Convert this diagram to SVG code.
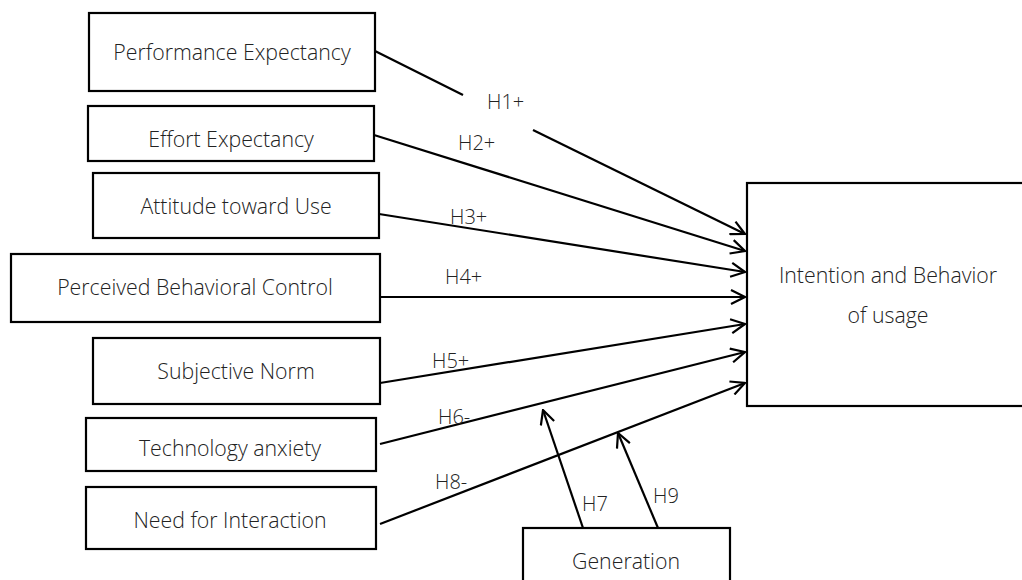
<svg xmlns="http://www.w3.org/2000/svg" width="1022" height="580" viewBox="0 0 1022 580">
<style>
.box{fill:#fff;stroke:#000;stroke-width:2.2}
.t{font-family:"Open Sans","Noto Sans",sans-serif;font-size:21.3px;font-weight:300;fill:#222;text-anchor:middle}
.l{font-family:"Open Sans","Noto Sans",sans-serif;font-size:20px;font-weight:300;fill:#222}
.c{fill:none;stroke:#000;stroke-width:2.2}
</style>
<defs>
<marker id="ah" viewBox="0 0 16 16" refX="15" refY="8" markerWidth="16" markerHeight="16" markerUnits="userSpaceOnUse" orient="auto">
<path d="M1,1 L15,8 L1,15" fill="none" stroke="#000" stroke-width="2.2"/>
</marker>
</defs>
<rect width="1022" height="580" fill="#fff"/>
<g id="connectors">
<line class="c" x1="375" y1="51" x2="463" y2="95"/>
<line class="c" x1="533" y1="130" x2="745" y2="234" marker-end="url(#ah)"/>
<line class="c" x1="374" y1="135" x2="745" y2="251" marker-end="url(#ah)"/>
<line class="c" x1="379" y1="214" x2="745" y2="272" marker-end="url(#ah)"/>
<line class="c" x1="380" y1="297" x2="745" y2="297" marker-end="url(#ah)"/>
<line class="c" x1="380" y1="383" x2="745" y2="324" marker-end="url(#ah)"/>
<line class="c" x1="380" y1="444" x2="745" y2="352" marker-end="url(#ah)"/>
<line class="c" x1="380" y1="524" x2="745" y2="383" marker-end="url(#ah)"/>
<line class="c" x1="583" y1="528" x2="543" y2="410" marker-end="url(#ah)"/>
<line class="c" x1="658" y1="528" x2="618" y2="433" marker-end="url(#ah)"/>
<text class="l" x="487" y="109">H1+</text>
<text class="l" x="458" y="150">H2+</text>
<text class="l" x="450" y="224">H3+</text>
<text class="l" x="445" y="284">H4+</text>
<text class="l" x="432" y="368">H5+</text>
<text class="l" x="438" y="424">H6-</text>
<text class="l" x="435" y="489">H8-</text>
<text class="l" x="582" y="511">H7</text>
<text class="l" x="653" y="503">H9</text>
</g>
<g id="performance-expectancy">
<rect class="box" x="89" y="13" width="286" height="78"/>
<text class="t" x="232" y="60">Performance Expectancy</text>
</g>
<g id="effort-expectancy">
<rect class="box" x="88" y="106" width="286" height="55"/>
<text class="t" x="231" y="147">Effort Expectancy</text>
</g>
<g id="attitude-toward-use">
<rect class="box" x="93" y="173" width="286" height="65"/>
<text class="t" x="236" y="214">Attitude toward Use</text>
</g>
<g id="perceived-behavioral-control">
<rect class="box" x="11" y="254" width="369" height="68"/>
<text class="t" x="195" y="295">Perceived Behavioral Control</text>
</g>
<g id="subjective-norm">
<rect class="box" x="93" y="338" width="287" height="66"/>
<text class="t" x="236" y="379">Subjective Norm</text>
</g>
<g id="technology-anxiety">
<rect class="box" x="86" y="418" width="290" height="53"/>
<text class="t" x="230" y="456">Technology anxiety</text>
</g>
<g id="need-for-interaction">
<rect class="box" x="86" y="487" width="290" height="62"/>
<text class="t" x="230" y="528">Need for Interaction</text>
</g>
<g id="generation">
<rect class="box" x="523" y="528" width="207" height="70"/>
<text class="t" x="626" y="569">Generation</text>
</g>
<g id="intention-behavior">
<rect class="box" x="747" y="183" width="290" height="223"/>
<text class="t" x="888" y="283">Intention and Behavior</text>
<text class="t" x="888" y="323">of usage</text>
</g>
</svg>
